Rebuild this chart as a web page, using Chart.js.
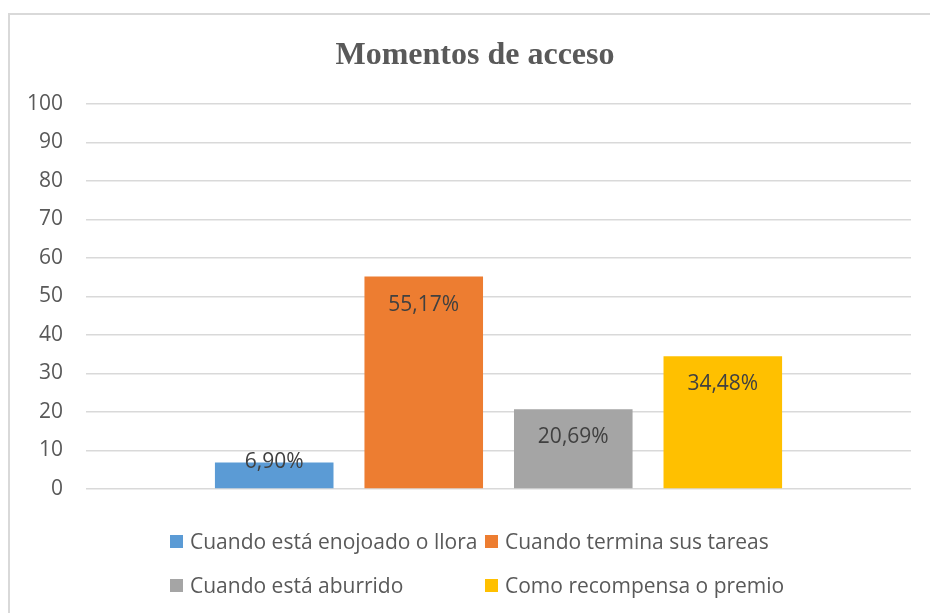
<!DOCTYPE html>
<html>
<head>
<meta charset="utf-8">
<script src="https://cdn.jsdelivr.net/npm/chart.js@4"></script>
<style>
  html, body { margin:0; padding:0; background:#fff; }
  #wrap { position:relative; width:930px; height:613px; overflow:hidden; }
  #frame { position:absolute; left:8px; top:13px; width:1000px; height:700px;
           border-left:2px solid #d9d9d9; border-top:2px solid #d9d9d9; }
  #chart { position:absolute; left:0; top:0; }
  #title { position:absolute; left:0; top:34px; width:950px; text-align:center;
           font:bold 32px "Liberation Serif", serif; line-height:38px; color:#595959; }
  #legend { position:absolute; left:170px; top:528px; display:grid;
            grid-template-columns:315px auto; row-gap:18px;
            font-family:"Open Sans", sans-serif; font-size:21px; color:#595959; }
  #legend .item { display:flex; align-items:center; height:26px; white-space:nowrap; }
  #legend .box { width:13px; height:13px; margin-right:7px; flex:none; }
</style>
</head>
<body>
<div id="wrap">
  <div id="frame"></div>
  <canvas id="chart" width="930" height="613"></canvas>
  <div id="title"></div>
  <div id="legend"></div>
</div>
<script>
// values (percent)
const chartTitle = 'Momentos de acceso';
const seriesNames = ['Cuando está enojoado o llora', 'Cuando termina sus tareas',
                     'Cuando está aburrido', 'Como recompensa o premio'];
const seriesValues = [6.90, 55.17, 20.69, 34.48];
const seriesColors = ['#5b9bd5', '#ed7d31', '#a5a5a5', '#ffc000'];
const yTicks = { min:0, max:100, step:10 };

const pct = v => v.toFixed(2).replace('.', ',') + '%';

// labels just inside the top of each bar, like Excel "inside end"
const barLabels = {
  id:'barLabels',
  afterDatasetsDraw(chart){
    const ctx = chart.ctx;
    ctx.save();
    ctx.font = '21px "Open Sans", sans-serif';
    ctx.fillStyle = '#404040';
    ctx.textAlign = 'center';
    ctx.textBaseline = 'middle';
    chart.data.datasets.forEach((ds, i) => {
      const bar = chart.getDatasetMeta(i).data[0];
      const y = Math.min(bar.y + 28, bar.base - 26);
      ctx.fillText(pct(ds.data[0]), bar.x, y);
    });
    ctx.restore();
  }
};

const chart = new Chart(document.getElementById('chart'), {
  type:'bar',
  data:{
    labels:[''],
    datasets: seriesNames.map((name, i) => ({
      label:name,
      data:[seriesValues[i]],
      backgroundColor:seriesColors[i],
      categoryPercentage:0.725,
      barPercentage:0.793
    }))
  },
  options:{
    responsive:false,
    animation:false,
    layout:{ padding:{ left:4, right:19, top:104, bottom:124 } },
    plugins:{
      legend:{ display:false },
      tooltip:{ enabled:false },
      title:{ display:false }
    },
    scales:{
      x:{ display:false },
      y:{
        min:yTicks.min, max:yTicks.max,
        ticks:{ stepSize:yTicks.step, color:'#595959', padding:23,
                font:{ family:'"Open Sans", sans-serif', size:21 } },
        grid:{ color:'#d9d9d9', lineWidth:1.5, drawTicks:false },
        border:{ display:false }
      }
    }
  },
  plugins:[barLabels]
});

document.getElementById('title').textContent = chartTitle;

// legend in two columns, built from the datasets
const legend = document.getElementById('legend');
chart.data.datasets.forEach(ds => {
  const item = document.createElement('div');
  item.className = 'item';
  const box = document.createElement('span');
  box.className = 'box';
  box.style.background = ds.backgroundColor;
  const txt = document.createElement('span');
  txt.textContent = ds.label;
  item.appendChild(box);
  item.appendChild(txt);
  legend.appendChild(item);
});
</script>
</body>
</html>
